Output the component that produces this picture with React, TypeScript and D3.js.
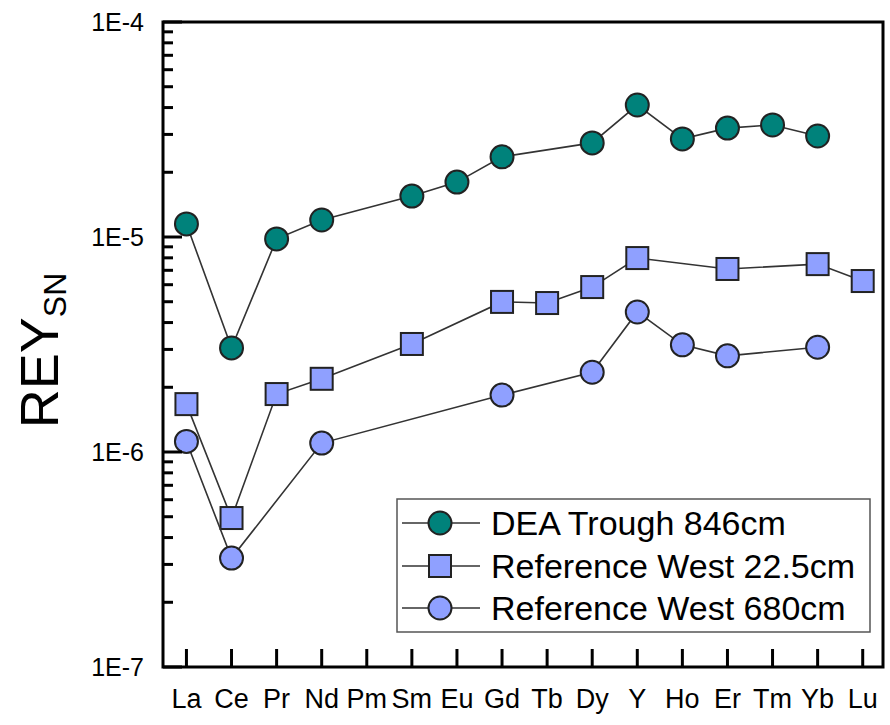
import * as d3 from 'd3';

const elements = ['La', 'Ce', 'Pr', 'Nd', 'Pm', 'Sm', 'Eu', 'Gd', 'Tb', 'Dy', 'Y', 'Ho', 'Er', 'Tm', 'Yb', 'Lu'];

// null = not measured
const deaTrough: (number | null)[] = [
  1.15e-5, 3.05e-6, 9.8e-6, 1.2e-5, null, 1.55e-5, 1.8e-5, 2.36e-5, null, 2.74e-5, 4.11e-5, 2.86e-5, 3.21e-5, 3.32e-5,
  2.95e-5, null,
];
const refWest225: (number | null)[] = [
  1.67e-6, 4.93e-7, 1.86e-6, 2.19e-6, null, 3.18e-6, null, 4.99e-6, 4.93e-6, 5.85e-6, 7.98e-6, null, 7.1e-6, null,
  7.48e-6, 6.24e-6,
];
const refWest680: (number | null)[] = [
  1.12e-6, 3.21e-7, null, 1.1e-6, null, null, null, 1.84e-6, null, 2.35e-6, 4.48e-6, 3.15e-6, 2.8e-6, null, 3.07e-6,
  null,
];

const yTickLabels = ['1E-7', '1E-6', '1E-5', '1E-4'];
const yTickValues = [1e-7, 1e-6, 1e-5, 1e-4];

const series = [
  { name: 'DEA Trough 846cm', values: deaTrough, shape: 'circle', fill: '#00827b' },
  { name: 'Reference West 22.5cm', values: refWest225, shape: 'square', fill: '#8fa0ff' },
  { name: 'Reference West 680cm', values: refWest680, shape: 'circle', fill: '#8fa0ff' },
];

const W = 890;
const H = 725;
const plot = { left: 163, right: 883, top: 22, bottom: 667 };
const font = 'Arial, "Liberation Sans", sans-serif';

function Marker({ shape, fill, x, y }: { shape: string; fill: string; x: number; y: number }) {
  if (shape === 'square')
    return <rect x={x - 11} y={y - 11} width={22} height={22} fill={fill} stroke="#222" strokeWidth={2} />;
  return <circle cx={x} cy={y} r={11.5} fill={fill} stroke="#222" strokeWidth={2} />;
}

export default function App() {
  const x = d3.scaleLinear().domain([-0.52, 15.45]).range([plot.left, plot.right]);
  const y = d3.scaleLog().domain([1e-7, 1e-4]).range([plot.bottom, plot.top]);

  const minor: number[] = [];
  [1e-7, 1e-6, 1e-5].forEach((d) => {
    for (let k = 2; k <= 9; k++) minor.push(d * k);
  });

  const line = d3
    .line<{ i: number; v: number }>()
    .x((d) => x(d.i))
    .y((d) => y(d.v));

  const legend = { x: 397, y: 499, w: 473, h: 133, rows: [523, 566, 608] };

  return (
    <svg width={W} height={H} style={{ position: 'absolute', left: 0, top: 0, background: '#fff' }} fontFamily={font}>
      {/* y label */}
      <text transform={`translate(58,${(plot.top + plot.bottom) / 2 + 6}) rotate(-90)`} textAnchor="middle" fontSize={54}>
        REY<tspan fontSize={32} dy={8}>SN</tspan>
      </text>

      {/* series */}
      {series.map((s) => {
        const pts = s.values.map((v, i) => ({ i, v })).filter((d): d is { i: number; v: number } => d.v != null);
        return (
          <g key={s.name}>
            <path d={line(pts) ?? ''} fill="none" stroke="#333" strokeWidth={1.6} />
            {pts.map((p) => (
              <Marker key={p.i} shape={s.shape} fill={s.fill} x={x(p.i)} y={y(p.v)} />
            ))}
          </g>
        );
      })}

      {/* axes frame */}
      <path
        d={`M${plot.left},${plot.top}H${plot.right}V${plot.bottom}H${plot.left}Z`}
        fill="none"
        stroke="#000"
        strokeWidth={3}
      />
      {yTickValues.map((t, i) => (
        <g key={t}>
          <line x1={plot.left} x2={plot.left + 19} y1={y(t)} y2={y(t)} stroke="#000" strokeWidth={3} />
          <text x={plot.left - 19} y={y(t) + 9} textAnchor="end" fontSize={25}>
            {yTickLabels[i]}
          </text>
        </g>
      ))}
      {minor.map((t) => (
        <line key={t} x1={plot.left} x2={plot.left + 10} y1={y(t)} y2={y(t)} stroke="#000" strokeWidth={3} />
      ))}
      {elements.map((e, i) => (
        <g key={e}>
          <line x1={x(i)} x2={x(i)} y1={plot.bottom} y2={plot.bottom - 18} stroke="#000" strokeWidth={3} />
          <text x={x(i)} y={plot.bottom + 41} textAnchor="middle" fontSize={27}>
            {e}
          </text>
        </g>
      ))}

      {/* legend */}
      <rect x={legend.x} y={legend.y} width={legend.w} height={legend.h} fill="#fff" stroke="#555" strokeWidth={1.5} />
      {series.map((s, i) => (
        <g key={s.name}>
          <line x1={legend.x + 5} x2={legend.x + 83} y1={legend.rows[i]} y2={legend.rows[i]} stroke="#333" strokeWidth={1.6} />
          <Marker shape={s.shape} fill={s.fill} x={legend.x + 43} y={legend.rows[i]} />
          <text x={legend.x + 94} y={legend.rows[i] + 12} fontSize={34}>
            {s.name}
          </text>
        </g>
      ))}
    </svg>
  );
}
